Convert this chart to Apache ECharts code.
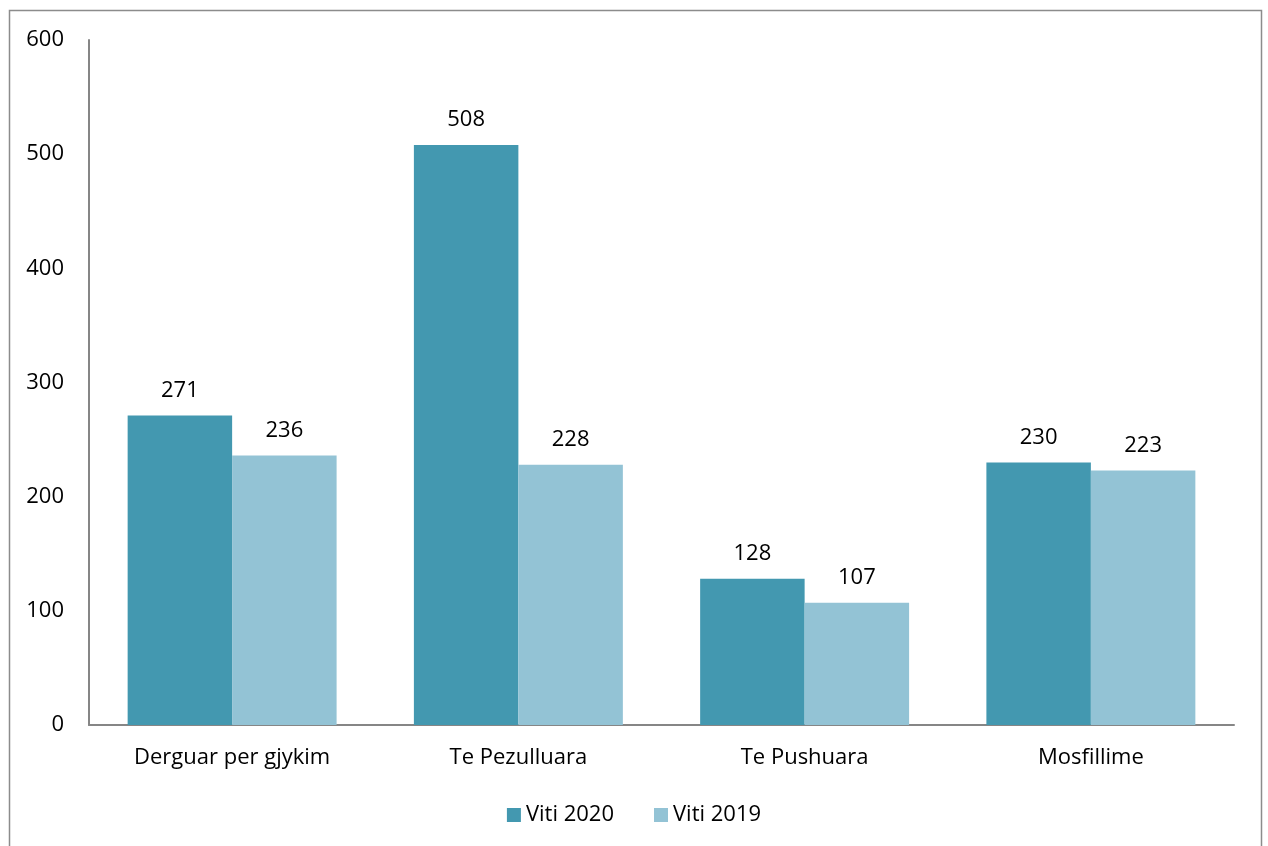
<!DOCTYPE html>
<html><head><meta charset="utf-8">
<script src="https://cdn.jsdelivr.net/npm/echarts@6/dist/echarts.min.js"></script>
<style>html,body{margin:0;padding:0;background:#fff}#c{width:1268px;height:846px}</style>
</head><body><div id="c"></div>
<script>
const categories = ["Derguar per gjykim", "Te Pezulluara", "Te Pushuara", "Mosfillime"];
const viti2020 = [271, 508, 128, 230];
const viti2019 = [236, 228, 107, 223];
const seriesNames = ["Viti 2020", "Viti 2019"];
const yTicks = [0, 100, 200, 300, 400, 500, 600];

const FONT = "Open Sans";
const FS = 22;
const chart = echarts.init(document.getElementById('c'), null, {renderer: 'canvas'});
chart.setOption({
  animation: false,
  textStyle: {fontFamily: FONT},
  graphic: [{type: 'rect', shape: {x: 9.5, y: 10.5, width: 1252, height: 900}, style: {fill: 'none', stroke: '#8c8c8c', lineWidth: 1.5}, silent: true}],
  grid: {left: 89, right: 34, top: 40, bottom: 121, containLabel: false},
  legend: {
    data: seriesNames, bottom: 15, left: 'center', itemWidth: 14, itemHeight: 14, itemGap: 40,
    icon: 'rect', textStyle: {fontFamily: FONT, fontSize: FS, color: '#000'}
  },
  xAxis: {
    type: 'category', data: categories,
    axisLine: {lineStyle: {color: '#868686', width: 2}},
    axisTick: {show: false},
    axisLabel: {fontFamily: FONT, fontSize: FS, color: '#000', margin: 22}
  },
  yAxis: {
    type: 'value', min: 0, max: 600, interval: 100,
    axisLine: {show: true, lineStyle: {color: '#868686', width: 2}},
    axisTick: {show: false},
    splitLine: {show: false},
    axisLabel: {fontFamily: FONT, fontSize: FS, color: '#000', margin: 25}
  },
  series: [
    {name: seriesNames[0], type: 'bar', data: viti2020, barGap: '0%', barCategoryGap: '27%',
     itemStyle: {color: '#4398B0'},
     label: {show: true, position: 'top', distance: 14, fontFamily: FONT, fontSize: FS, color: '#000'}},
    {name: seriesNames[1], type: 'bar', data: viti2019, barGap: '0%', barCategoryGap: '27%',
     itemStyle: {color: '#93C3D5'},
     label: {show: true, position: 'top', distance: 14, fontFamily: FONT, fontSize: FS, color: '#000'}}
  ]
});
</script></body></html>
